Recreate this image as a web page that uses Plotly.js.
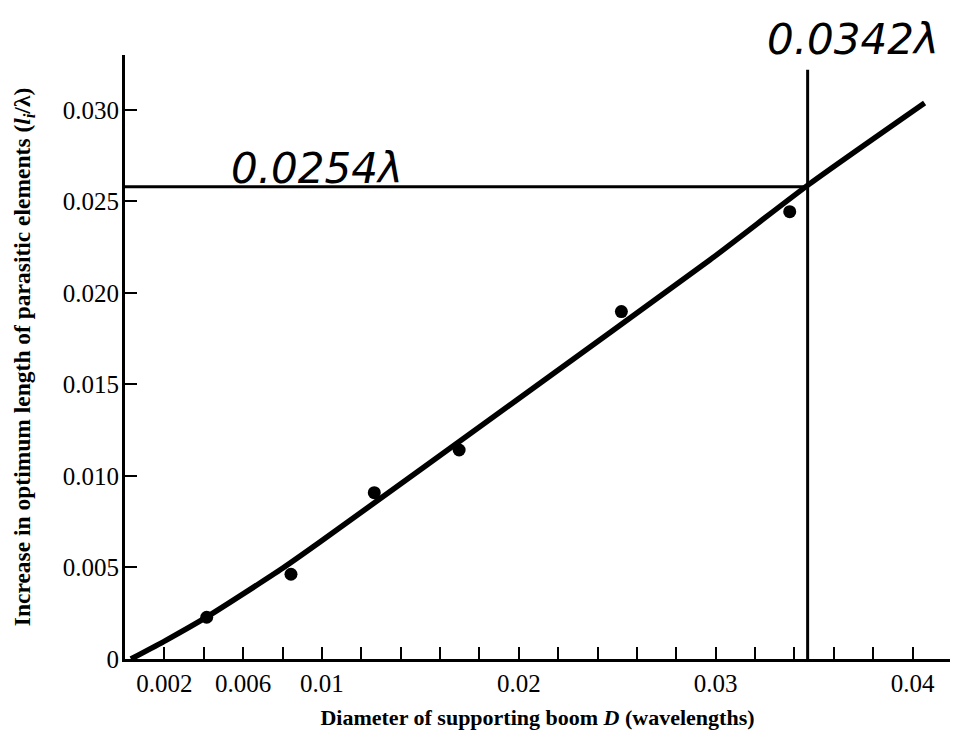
<!DOCTYPE html>
<html>
<head>
<meta charset="utf-8">
<script src="https://cdn.plot.ly/plotly-3.0.1.min.js"></script>
<style>html,body{margin:0;padding:0;background:#fff;}#chart{width:954px;height:742px;}</style>
</head>
<body>
<div id="chart"></div>
<script>
// Measured points (boom diameter in wavelengths vs. increase in element length)
const pointX = [0.00415, 0.00843, 0.01266, 0.01697, 0.02521, 0.03376];
const pointY = [0.00228, 0.00463, 0.00909, 0.01142, 0.01898, 0.02444];
// Fitted curve
const curveX = [0.00030, 0.00208, 0.00416, 0.00802, 0.00990, 0.01990, 0.02970, 0.03477, 0.04061];
const curveY = [0.00000, 0.00102, 0.00230, 0.00497, 0.00639, 0.01415, 0.02180, 0.02596, 0.03038];
// Reference lines drawn by hand
const hLineX = [0, 0.03467];
const hLineY = [0.0258, 0.0258];
const vLineX = [0.03467, 0.03467];
const vLineY = [0, 0.0322];
// Axis ticks
const xTickVals = [0.002, 0.006, 0.01, 0.02, 0.03, 0.04];
const xTickText = ['0.002', '0.006', '0.01', '0.02', '0.03', '0.04'];
const xMinorStep = 0.002;
const yTickVals = [0, 0.005, 0.010, 0.015, 0.020, 0.025, 0.030];
const yTickText = ['0', '0.005', '0.010', '0.015', '0.020', '0.025', '0.030'];
// Handwritten notes
const noteText = ['0.0254λ', '0.0342λ'];

const traces = [
  {x: hLineX, y: hLineY, mode: 'lines', line: {color: '#000', width: 3}, hoverinfo: 'skip', showlegend: false},
  {x: vLineX, y: vLineY, mode: 'lines', line: {color: '#000', width: 3}, hoverinfo: 'skip', showlegend: false},
  {x: curveX, y: curveY, mode: 'lines', line: {color: '#000', width: 5.5, shape: 'spline', smoothing: 0.6}, showlegend: false},
  {x: pointX, y: pointY, mode: 'markers', marker: {color: '#000', size: 13}, showlegend: false}
];

const serif = 'Liberation Serif, Times New Roman, serif';
const hand = 'DejaVu Sans, sans-serif';
const layout = {
  width: 954, height: 742,
  margin: {l: 125, r: 4, t: 55, b: 83},
  paper_bgcolor: '#fff', plot_bgcolor: '#fff',
  showlegend: false,
  xaxis: {
    range: [0, 0.0419],
    showgrid: false, zeroline: false,
    showline: true, linecolor: '#000', linewidth: 3,
    ticks: 'inside', ticklen: 12, tickwidth: 2, tickcolor: '#000',
    tickmode: 'array', tickvals: xTickVals, ticktext: xTickText,
    minor: {ticks: 'inside', ticklen: 12, tickwidth: 2, tickcolor: '#000', tick0: 0, dtick: xMinorStep, showgrid: false},
    tickfont: {family: serif, size: 25, color: '#000'},
    title: {text: 'Diameter of supporting boom <i>D</i> (wavelengths)', font: {family: serif, size: 22, color: '#000', weight: 'bold'}, standoff: 14}
  },
  yaxis: {
    range: [0, 0.033],
    showgrid: false, zeroline: false,
    showline: true, linecolor: '#000', linewidth: 3,
    ticks: 'inside', ticklen: 12, tickwidth: 2, tickcolor: '#000',
    tickmode: 'array', tickvals: yTickVals, ticktext: yTickText,
    ticklabelstandoff: -2,
    tickfont: {family: serif, size: 25, color: '#000'},
    title: {text: 'Increase in optimum length of parasitic elements (<i>l<sub>i</sub></i>/λ)', font: {family: serif, size: 23.5, color: '#000', weight: 'bold'}, standoff: 26}
  },
  annotations: [
    {x: 0.0053, y: hLineY[0], xref: 'x', yref: 'y', text: noteText[0], showarrow: false,
     xanchor: 'left', yanchor: 'bottom', yshift: -8,
     font: {family: hand, size: 42, color: '#000', style: 'italic'}},
    {x: vLineX[0] - 0.00217, y: vLineY[1], xref: 'x', yref: 'y', text: noteText[1], showarrow: false,
     xanchor: 'left', yanchor: 'bottom', yshift: 4,
     font: {family: hand, size: 42, color: '#000', style: 'italic'}}
  ]
};

Plotly.newPlot('chart', traces, layout, {displayModeBar: false, staticPlot: true});
</script>
</body>
</html>
